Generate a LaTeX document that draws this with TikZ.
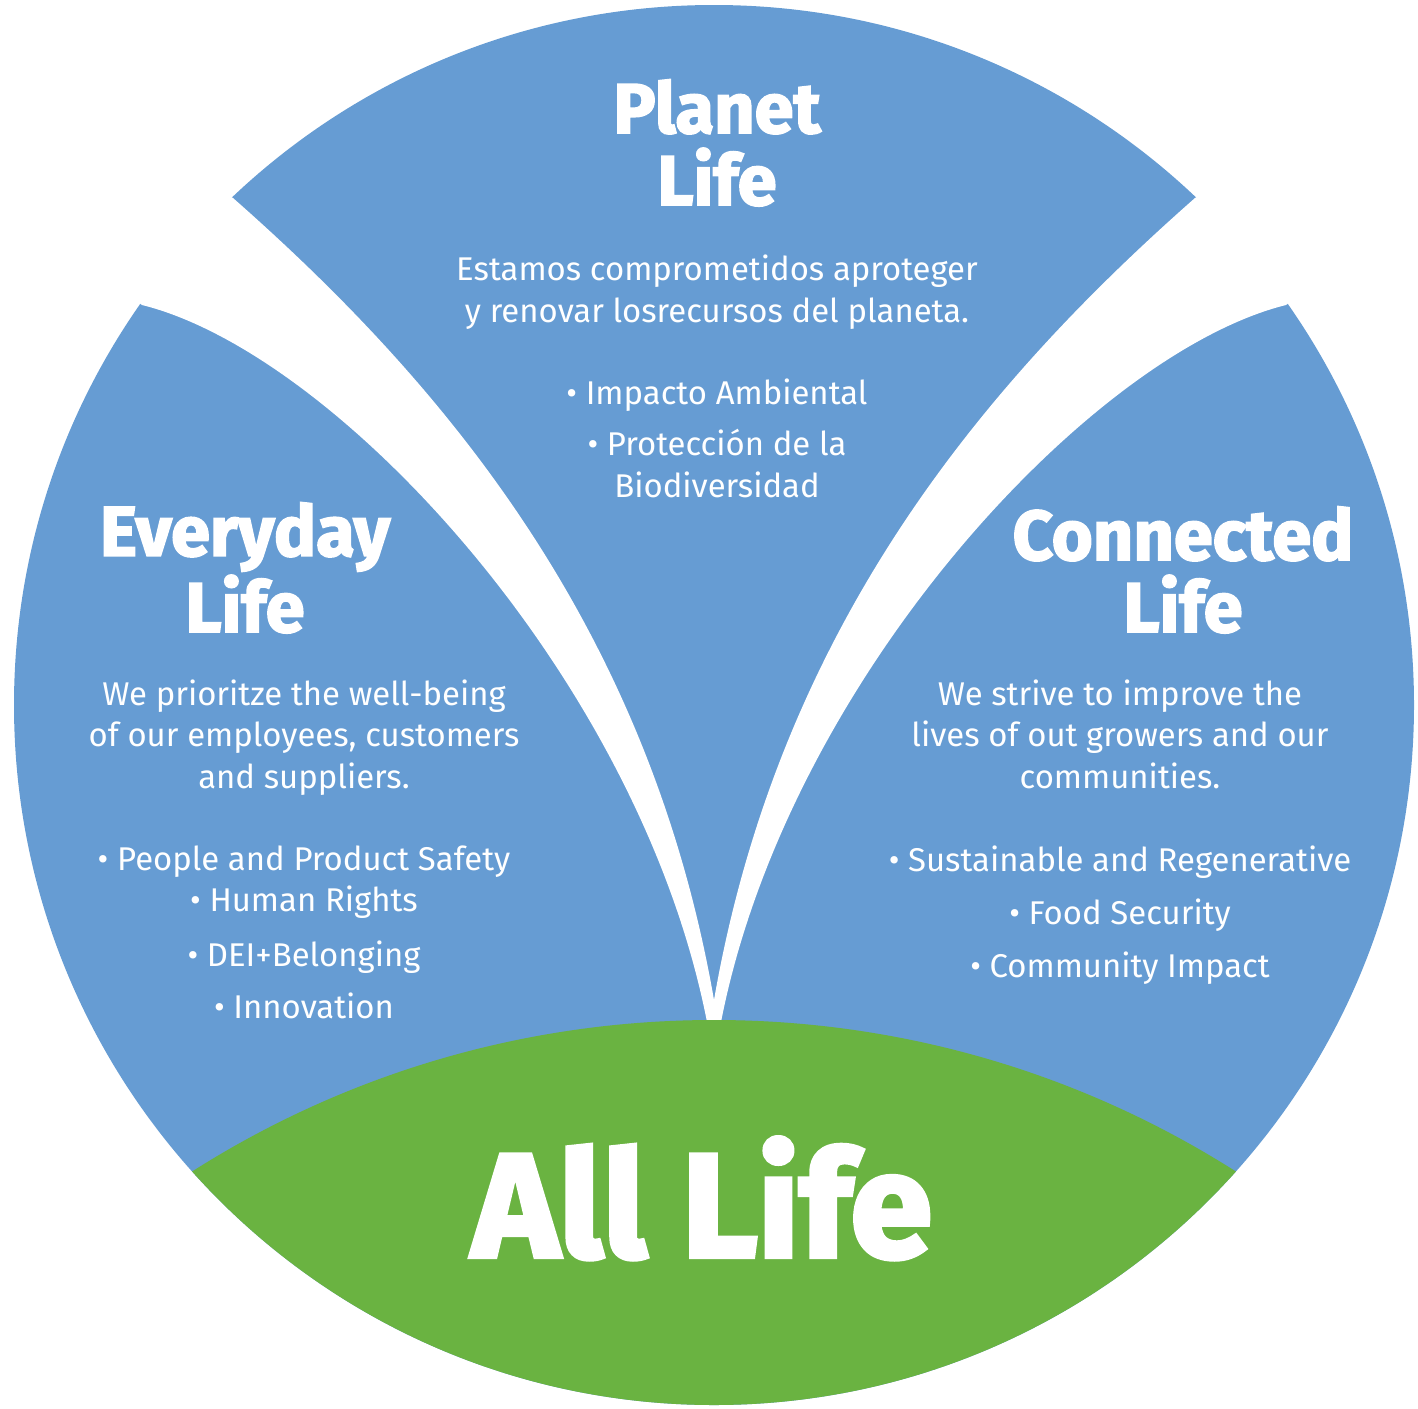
\documentclass[tikz,border=0pt]{standalone}
\usepackage{fontspec}
\setmainfont{Fira Sans}
\definecolor{petalblue}{RGB}{102,156,211}
\definecolor{leafgreen}{RGB}{106,179,65}
\tikzset{
  body/.style={text=white, font=\fontsize{9.35}{11.67}\selectfont, align=center, anchor=base, inner sep=0pt},
  head/.style={text=white, font=\fontsize{20}{20.5}\selectfont\bfseries\addfontfeature{FakeBold=2.5}, align=center, anchor=base, inner sep=0pt},
  biglabel/.style={text=white, font=\fontsize{42}{42}\selectfont\bfseries\addfontfeature{FakeBold=3}, anchor=base, inner sep=0pt}
}
\begin{document}
\begin{tikzpicture}[x=0.01cm,y=-0.01cm]
  \useasboundingbox (0,0) rectangle (1418,1409);

  % disc and the two white gaps between the petals
  \fill[petalblue] (714,705) circle (700);
  \foreach \s in {1,-1}{
    \fill[white, shift={(714,0)}, xscale=\s, shift={(-714,0)}]
      (142,305) .. controls (336,353) and (640,679) .. (707,1022)
      -- (707,1030) -- (714,1030) -- (714,1000)
      .. controls (649,626) and (443,383) .. (233,198)
      -- (150,150) -- (80,260) -- cycle;
  }

  % green cap
  \begin{scope}
    \clip (714,705) circle (700);
    \fill[leafgreen] (714,1994) circle (974);
  \end{scope}

  \node[head] (planet) at (717,205) {Planet\\Life};
  \node[body] (planettext) at (717,322) {Estamos comprometidos aproteger\\y renovar losrecursos del planeta.};
  \node[body] (planetlist) at (717,497) {• Impacto Ambiental\\[3.1pt] • Protección de la\\Biodiversidad};

  \node[head] (everyday) at (245,632) {Everyday\\Life};
  \node[body] (everydaytext) at (304,788) {We prioritze the well-being\\of our employees, customers\\and suppliers.};
  \node[body] (everydaylist) at (304,1018) {• People and Product Safety\\• Human Rights\\[4pt] • DEI+Belonging\\[2.85pt] • Innovation};

  \node[head] (connected) at (1183,632) {Connected\\Life};
  \node[body] (connectedtext) at (1120,788) {We strive to improve the\\lives of out growers and our\\communities.};
  \node[body] (connectedlist) at (1120,977) {• Sustainable and Regenerative\\[3.4pt] • Food Security\\[3.4pt] • Community Impact};

  \node[biglabel] (alllife) at (702,1257) {All Life};
\end{tikzpicture}
\end{document}
